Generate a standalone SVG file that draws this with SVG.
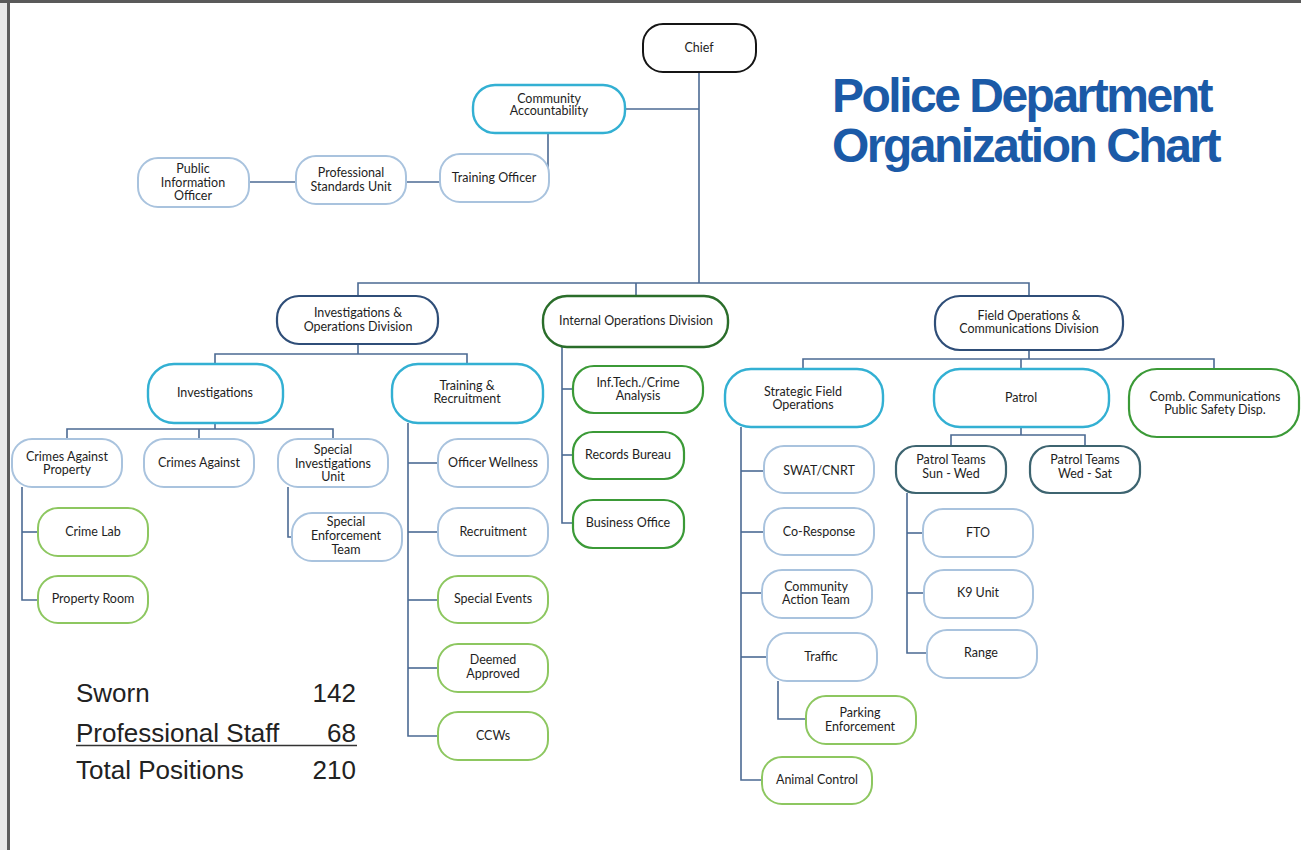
<svg xmlns="http://www.w3.org/2000/svg" width="1301" height="850" viewBox="0 0 1301 850">
  <style>
    .box { fill: #ffffff; stroke-width: 2; }
    .chief { stroke: #151515; }
    .cyan { stroke: #33b0d3; stroke-width: 2.4; }
    .dkblue { stroke: #2f4e78; stroke-width: 2.2; }
    .ltblue { stroke: #a9c3de; }
    .dkgreen { stroke: #2a6d2a; stroke-width: 2.4; }
    .green { stroke: #3b9a37; stroke-width: 2.2; }
    .ltgreen { stroke: #8dc760; }
    .slate { stroke: #3d6470; stroke-width: 2.2; }
    .lbl { font-family: Lato, "Liberation Sans", sans-serif; font-size: 12.5px; fill: #1e1e1e; text-anchor: middle; }
    .conn { fill: none; stroke: #4b6a93; stroke-width: 1.6; }
    .title { font-family: "Liberation Sans", Arial, sans-serif; font-weight: bold; font-size: 48px; letter-spacing: -2.5px; fill: #1b5aa7; }
    .stat { font-family: "Liberation Sans", Arial, sans-serif; font-size: 26px; fill: #222222; }
  </style>

  <!-- page frame -->
  <rect x="0" y="0" width="1301" height="850" fill="#ffffff"/>
  <rect x="0" y="0" width="7" height="850" fill="#e8e8e8"/>
  <rect x="7" y="0" width="3" height="850" fill="#5c5c5c"/>
  <rect x="0" y="0" width="1301" height="3" fill="#5a5a5a"/>

  <!-- connectors -->
  <g id="connectors" class="conn">
    <path d="M699 72 V283"/>
    <path d="M625 109 H699"/>
    <path d="M548 133 V168"/>
    <path d="M406 182 H440"/>
    <path d="M249 182 H296"/>
    <path d="M358 296 V283 H1029 V296"/>
    <path d="M636 283 V296"/>
    <!-- investigations & operations -->
    <path d="M358 344 V354"/>
    <path d="M215 364 V354 H467 V364"/>
    <path d="M215 423 V429"/>
    <path d="M67 439 V429 H333 V439"/>
    <path d="M199 429 V439"/>
    <path d="M22 487 V600 H38"/>
    <path d="M22 532 H38"/>
    <path d="M288 487 V537 H292"/>
    <path d="M408 423 V736 H438"/>
    <path d="M408 463 H438"/>
    <path d="M408 532 H438"/>
    <path d="M408 600 H438"/>
    <path d="M408 668 H438"/>
    <!-- internal operations -->
    <path d="M562 347 V523 H573"/>
    <path d="M562 389 H573"/>
    <path d="M562 455 H573"/>
    <!-- field operations -->
    <path d="M1029 350 V359"/>
    <path d="M803 369 V359 H1214 V369"/>
    <path d="M1021 359 V369"/>
    <path d="M741 427 V780 H762"/>
    <path d="M741 471 H764"/>
    <path d="M741 532 H764"/>
    <path d="M741 593 H762"/>
    <path d="M741 657 H767"/>
    <path d="M778 681 V719 H806"/>
    <path d="M1021 427 V435"/>
    <path d="M951 446 V435 H1085 V446"/>
    <path d="M907 493 V653 H927"/>
    <path d="M907 533 H923"/>
    <path d="M907 593 H924"/>
  </g>

  <!-- command staff -->
  <g id="chief">
    <rect class="box chief" x="643" y="24" width="113" height="48" rx="20"/>
    <text class="lbl" x="699" y="52">Chief</text>
  </g>
  <g id="community-accountability">
    <rect class="box cyan" x="473" y="85" width="152" height="48" rx="22"/>
    <text class="lbl" x="549" y="103">Community</text>
    <text class="lbl" x="549" y="115">Accountability</text>
  </g>
  <g id="training-officer">
    <rect class="box ltblue" x="440" y="154" width="109" height="48" rx="20"/>
    <text class="lbl" x="494" y="182">Training Officer</text>
  </g>
  <g id="professional-standards">
    <rect class="box ltblue" x="296" y="156" width="110" height="48" rx="20"/>
    <text class="lbl" x="351" y="177">Professional</text>
    <text class="lbl" x="351" y="191">Standards Unit</text>
  </g>
  <g id="public-information">
    <rect class="box ltblue" x="138" y="158" width="111" height="49" rx="20"/>
    <text class="lbl" x="193" y="173">Public</text>
    <text class="lbl" x="193" y="186.5">Information</text>
    <text class="lbl" x="193" y="200">Officer</text>
  </g>

  <!-- divisions -->
  <g id="investigations-operations">
    <rect class="box dkblue" x="277" y="296" width="161" height="48" rx="22"/>
    <text class="lbl" x="358" y="317">Investigations &amp;</text>
    <text class="lbl" x="358" y="330.5">Operations Division</text>
  </g>
  <g id="internal-operations">
    <rect class="box dkgreen" x="543" y="296" width="185" height="51" rx="24"/>
    <text class="lbl" x="636" y="325">Internal Operations Division</text>
  </g>
  <g id="field-operations">
    <rect class="box dkblue" x="935" y="296" width="188" height="54" rx="25"/>
    <text class="lbl" x="1029" y="319.5">Field Operations &amp;</text>
    <text class="lbl" x="1029" y="333">Communications Division</text>
  </g>

  <!-- investigations & operations units -->
  <g id="investigations">
    <rect class="box cyan" x="148" y="364" width="135" height="59" rx="26"/>
    <text class="lbl" x="215" y="397">Investigations</text>
  </g>
  <g id="training-recruitment">
    <rect class="box cyan" x="392" y="364" width="151" height="59" rx="26"/>
    <text class="lbl" x="467" y="389.5">Training &amp;</text>
    <text class="lbl" x="467" y="403">Recruitment</text>
  </g>
  <g id="crimes-against-property">
    <rect class="box ltblue" x="12" y="439" width="110" height="48" rx="20"/>
    <text class="lbl" x="67" y="460.5">Crimes Against</text>
    <text class="lbl" x="67" y="474">Property</text>
  </g>
  <g id="crimes-against">
    <rect class="box ltblue" x="144" y="439" width="110" height="48" rx="20"/>
    <text class="lbl" x="199" y="467">Crimes Against</text>
  </g>
  <g id="special-investigations">
    <rect class="box ltblue" x="278" y="439" width="110" height="48" rx="20"/>
    <text class="lbl" x="333" y="454">Special</text>
    <text class="lbl" x="333" y="467.5">Investigations</text>
    <text class="lbl" x="333" y="481">Unit</text>
  </g>
  <g id="crime-lab">
    <rect class="box ltgreen" x="38" y="508" width="110" height="48" rx="20"/>
    <text class="lbl" x="93" y="536">Crime Lab</text>
  </g>
  <g id="property-room">
    <rect class="box ltgreen" x="38" y="576" width="110" height="47" rx="20"/>
    <text class="lbl" x="93" y="603">Property Room</text>
  </g>
  <g id="special-enforcement">
    <rect class="box ltblue" x="292" y="513" width="110" height="48" rx="20"/>
    <text class="lbl" x="346" y="526">Special</text>
    <text class="lbl" x="346" y="540">Enforcement</text>
    <text class="lbl" x="346" y="554">Team</text>
  </g>
  <g id="officer-wellness">
    <rect class="box ltblue" x="438" y="439" width="110" height="48" rx="20"/>
    <text class="lbl" x="493" y="467">Officer Wellness</text>
  </g>
  <g id="recruitment">
    <rect class="box ltblue" x="438" y="508" width="110" height="48" rx="20"/>
    <text class="lbl" x="493" y="536">Recruitment</text>
  </g>
  <g id="special-events">
    <rect class="box ltgreen" x="438" y="576" width="110" height="47" rx="20"/>
    <text class="lbl" x="493" y="603">Special Events</text>
  </g>
  <g id="deemed-approved">
    <rect class="box ltgreen" x="438" y="644" width="110" height="48" rx="20"/>
    <text class="lbl" x="493" y="664">Deemed</text>
    <text class="lbl" x="493" y="678">Approved</text>
  </g>
  <g id="ccws">
    <rect class="box ltgreen" x="438" y="712" width="110" height="48" rx="20"/>
    <text class="lbl" x="493" y="740">CCWs</text>
  </g>

  <!-- internal operations units -->
  <g id="inf-tech">
    <rect class="box green" x="573" y="366" width="130" height="47" rx="21"/>
    <text class="lbl" x="638" y="386.5">Inf.Tech./Crime</text>
    <text class="lbl" x="638" y="400">Analysis</text>
  </g>
  <g id="records-bureau">
    <rect class="box green" x="573" y="432" width="111" height="47" rx="20"/>
    <text class="lbl" x="628" y="459">Records Bureau</text>
  </g>
  <g id="business-office">
    <rect class="box green" x="573" y="500" width="111" height="48" rx="20"/>
    <text class="lbl" x="628" y="527">Business Office</text>
  </g>

  <!-- field operations units -->
  <g id="strategic-field">
    <rect class="box cyan" x="725" y="369" width="158" height="58" rx="26"/>
    <text class="lbl" x="803" y="395.5">Strategic Field</text>
    <text class="lbl" x="803" y="409">Operations</text>
  </g>
  <g id="patrol">
    <rect class="box cyan" x="934" y="369" width="175" height="58" rx="26"/>
    <text class="lbl" x="1021" y="402">Patrol</text>
  </g>
  <g id="comb-communications">
    <rect class="box green" x="1129" y="369" width="170" height="68" rx="28"/>
    <text class="lbl" x="1215" y="400.5">Comb. Communications</text>
    <text class="lbl" x="1215" y="414">Public Safety Disp.</text>
  </g>
  <g id="swat">
    <rect class="box ltblue" x="764" y="446" width="110" height="47" rx="20"/>
    <text class="lbl" x="819" y="475">SWAT/CNRT</text>
  </g>
  <g id="co-response">
    <rect class="box ltblue" x="764" y="508" width="110" height="47" rx="20"/>
    <text class="lbl" x="819" y="536">Co-Response</text>
  </g>
  <g id="community-action">
    <rect class="box ltblue" x="762" y="570" width="110" height="48" rx="20"/>
    <text class="lbl" x="816" y="590.5">Community</text>
    <text class="lbl" x="816" y="604">Action Team</text>
  </g>
  <g id="traffic">
    <rect class="box ltblue" x="767" y="633" width="110" height="48" rx="20"/>
    <text class="lbl" x="821" y="661">Traffic</text>
  </g>
  <g id="parking-enforcement">
    <rect class="box ltgreen" x="806" y="696" width="110" height="48" rx="20"/>
    <text class="lbl" x="860" y="717">Parking</text>
    <text class="lbl" x="860" y="731">Enforcement</text>
  </g>
  <g id="animal-control">
    <rect class="box ltgreen" x="762" y="757" width="110" height="47" rx="20"/>
    <text class="lbl" x="817" y="784">Animal Control</text>
  </g>
  <g id="patrol-sun-wed">
    <rect class="box slate" x="896" y="446" width="110" height="47" rx="20"/>
    <text class="lbl" x="951" y="464">Patrol Teams</text>
    <text class="lbl" x="951" y="477.5">Sun - Wed</text>
  </g>
  <g id="patrol-wed-sat">
    <rect class="box slate" x="1030" y="446" width="110" height="47" rx="20"/>
    <text class="lbl" x="1085" y="464">Patrol Teams</text>
    <text class="lbl" x="1085" y="477.5">Wed - Sat</text>
  </g>
  <g id="fto">
    <rect class="box ltblue" x="923" y="509" width="110" height="48" rx="20"/>
    <text class="lbl" x="978" y="537">FTO</text>
  </g>
  <g id="k9-unit">
    <rect class="box ltblue" x="924" y="570" width="109" height="48" rx="20"/>
    <text class="lbl" x="978" y="597">K9 Unit</text>
  </g>
  <g id="range">
    <rect class="box ltblue" x="927" y="630" width="110" height="48" rx="20"/>
    <text class="lbl" x="981" y="657">Range</text>
  </g>

  <!-- title -->
  <g id="title">
    <text class="title" x="832" y="112">Police Department</text>
    <text class="title" x="832" y="162">Organization Chart</text>
  </g>

  <!-- staffing totals -->
  <g id="staffing">
    <text class="stat" x="76" y="702">Sworn</text>
    <text class="stat" x="356" y="702" text-anchor="end">142</text>
    <text class="stat" x="76" y="742">Professional Staff</text>
    <text class="stat" x="356" y="742" text-anchor="end">68</text>
    <line x1="76" y1="745.5" x2="357" y2="745.5" stroke="#333333" stroke-width="1.5"/>
    <text class="stat" x="76" y="779">Total Positions</text>
    <text class="stat" x="356" y="779" text-anchor="end">210</text>
  </g>
</svg>
